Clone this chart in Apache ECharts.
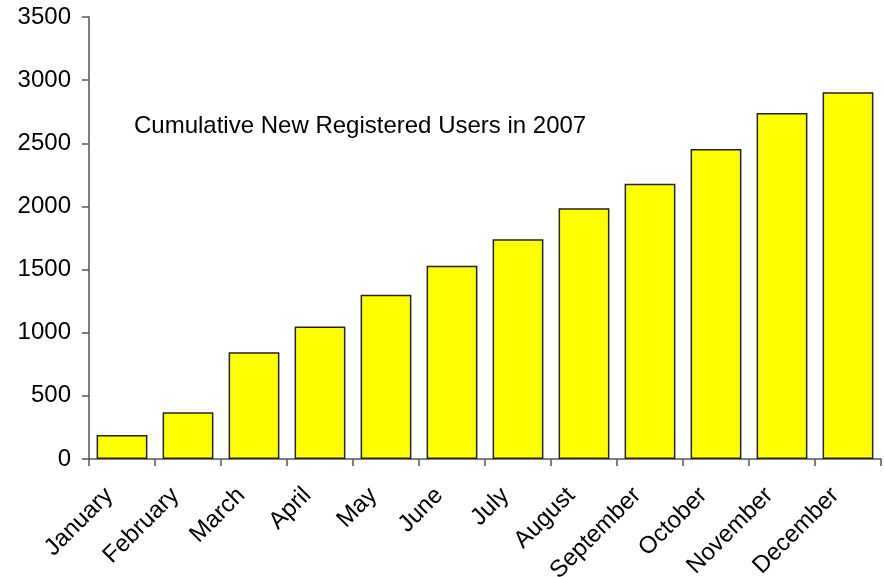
<!DOCTYPE html>
<html>
<head>
<meta charset="utf-8">
<script src="https://cdn.jsdelivr.net/npm/echarts@6/dist/echarts.min.js"></script>
<style>
  html, body { margin: 0; padding: 0; background: #fff; }
  #chart { width: 884px; height: 577px; }
</style>
</head>
<body>
<div id="chart"></div>
<script>
// Months of 2007
const months = ['January', 'February', 'March', 'April', 'May', 'June',
  'July', 'August', 'September', 'October', 'November', 'December'];

// Cumulative count of newly registered users at each month
const cumulativeUsers = [190, 370, 845, 1050, 1300, 1530, 1740, 1985, 2180, 2455, 2740, 2905];

// Value axis ticks
const yMin = 0;
const yMax = 3500;
const yStep = 500;

const chartTitle = 'Cumulative New Registered Users in 2007';

const chart = echarts.init(document.getElementById('chart'), null, { renderer: 'canvas' });
const font = 'Arial, "Liberation Sans", sans-serif';

chart.setOption({
  animation: false,
  backgroundColor: '#ffffff',
  title: {
    text: chartTitle,
    left: 129,
    top: 109,
    textStyle: { fontFamily: font, fontSize: 24, fontWeight: 'normal', color: '#000' }
  },
  grid: {
    left: 89, right: 3, top: 17, bottom: 118,
    containLabel: false,
    outerBoundsMode: 'none'
  },
  xAxis: {
    type: 'category',
    data: months,
    boundaryGap: true,
    axisLine: { lineStyle: { color: '#555', width: 1.5 } },
    axisTick: { show: true, length: 7, lineStyle: { color: '#555', width: 1.5 } },
    axisLabel: {
      rotate: 45,
      margin: 20,
      padding: [0, 18, 0, 0],
      interval: 0,
      fontFamily: font,
      fontSize: 24,
      color: '#000'
    }
  },
  yAxis: {
    type: 'value',
    min: yMin,
    max: yMax,
    interval: yStep,
    splitLine: { show: false },
    axisLine: { show: true, lineStyle: { color: '#555', width: 1.5 } },
    axisTick: { show: true, length: 7, lineStyle: { color: '#555', width: 1.5 } },
    axisLabel: {
      margin: 18,
      fontFamily: font,
      fontSize: 24,
      color: '#000',
      formatter: (v) => String(v)
    }
  },
  series: [{
    type: 'bar',
    data: cumulativeUsers,
    barCategoryGap: '23%',
    itemStyle: { color: '#ffff00', borderColor: '#222', borderWidth: 1.5 }
  }]
});
</script>
</body>
</html>
